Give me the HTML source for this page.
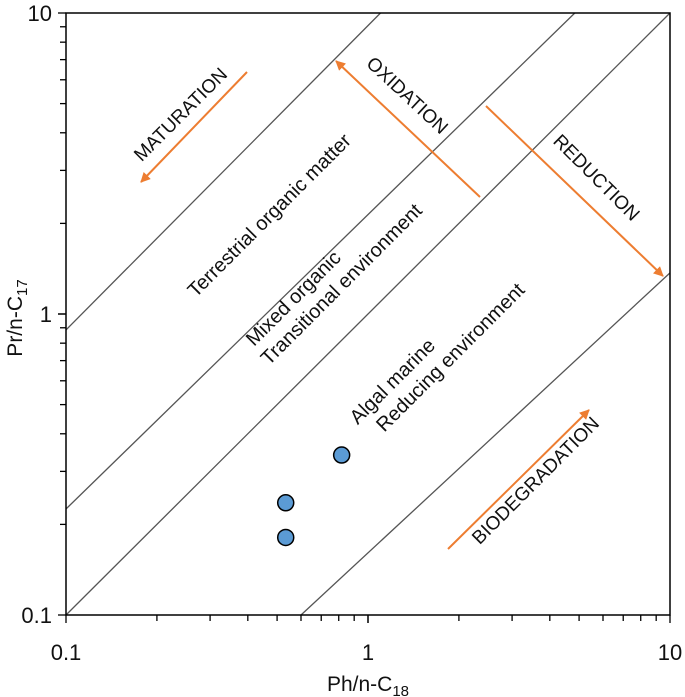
<!DOCTYPE html>
<html><head><meta charset="utf-8"><style>
body{margin:0;background:#fff}
svg text{font-family:"Liberation Sans",sans-serif;fill:#111}
</style></head><body>
<svg id="chart" style="position:absolute;left:0;top:0" width="685" height="697" viewBox="0 0 685 697" xmlns="http://www.w3.org/2000/svg">
<g id="lines"></g><g id="axes"></g><g id="pts"></g>
</svg>
<script>
const ptX=[0.818,0.534,0.534];
const ptY=[0.34,0.236,0.181];
const lineX1=[0.1,0.1,0.1,0.6];
const lineY1=[0.885,0.225,0.1,0.1];
const lineX2=[1.1,4.84,10,10];
const lineY2=[10,10,10,1.37];
const tickLabels=["0.1","1","10"];
const L=66,R=670,T=13,B=615;
const sx=v=>L+(Math.log10(v)+1)/2*(R-L);
const sy=v=>B-(Math.log10(v)+1)/2*(B-T);
const NS="http://www.w3.org/2000/svg";
function mk(t,a,p){const e=document.createElementNS(NS,t);for(const k in a)e.setAttribute(k,a[k]);p.appendChild(e);return e;}
const lg=document.getElementById('lines'),ax=document.getElementById('axes'),pg=document.getElementById('pts');
const lnames=['terrestrial-boundary','mixed-boundary','algal-boundary','biodegradation-boundary'];
for(let i=0;i<lineX1.length;i++){
 const l=mk('line',{x1:sx(lineX1[i]),y1:sy(lineY1[i]),x2:sx(lineX2[i]),y2:sy(lineY2[i]),stroke:'#555','stroke-width':1.3},lg);
 
 
}
const fr=mk('rect',{x:L,y:T,width:R-L,height:B-T,fill:'none',stroke:'#000','stroke-width':1.5},ax);


for(let d=0;d<2;d++)for(let m=1;m<=10;m++){
 const v=Math.pow(10,d-1)*m;
 const x=sx(v),y=sy(v);
 const t1=mk('line',{x1:x,y1:B,x2:x,y2:B+(m==1||m==10?8:6),stroke:'#000','stroke-width':1.3},ax);
 
 
 const t2=mk('line',{x1:L,y1:y,x2:L-(m==1||m==10?8:6),y2:y,stroke:'#000','stroke-width':1.3},ax);
 
 
}
tickLabels.forEach((s,i)=>{
 const v=Math.pow(10,i-1);
 const a=mk('text',{x:sx(v),y:B+45,'text-anchor':'middle','font-size':22},ax);a.textContent=s;
 
 
 const b=mk('text',{x:L-14,y:sy(v)+8,'text-anchor':'end','font-size':22},ax);b.textContent=s;
 
 
});
for(let i=0;i<ptX.length;i++){
 const c=mk('circle',{cx:sx(ptX[i]),cy:sy(ptY[i]),r:8,fill:'#5B9BD5',stroke:'#000','stroke-width':1.5},pg);
 
 
}
</script>
<svg style="position:absolute;left:0;top:0" width="685" height="697" xmlns="http://www.w3.org/2000/svg">
<defs><marker id="ah2" viewBox="0 0 10 10" refX="9" refY="5" markerWidth="5" markerHeight="5" orient="auto"><path d="M0,0L10,5L0,10z" fill="#ED7D31"/></marker></defs>
<g stroke="#ED7D31" stroke-width="2" marker-end="url(#ah2)">
<line x1="247" y1="72" x2="141" y2="182"/>
<line x1="480" y1="197" x2="336" y2="61"/>
<line x1="486" y1="106" x2="663" y2="276"/>
<line x1="448" y1="549" x2="589" y2="410"/>
</g>
<g font-family="Liberation Sans, sans-serif" font-size="20" fill="#111" text-anchor="middle">
<text transform="translate(185,119) rotate(-45)" font-size="19">MATURATION</text>
<text transform="translate(403,100) rotate(43)" font-size="19">OXIDATION</text>
<text transform="translate(592,182) rotate(45)" font-size="19">REDUCTION</text>
<text transform="translate(540,485) rotate(-45)" font-size="19">BIODEGRADATION</text>
<text transform="translate(274,220) rotate(-45)">Terrestrial organic matter</text>
<text transform="translate(298,303) rotate(-45)">Mixed organic</text>
<text transform="translate(346,289) rotate(-45)">Transitional environment</text>
<text transform="translate(397,386) rotate(-45)">Algal marine</text>
<text transform="translate(455,362) rotate(-45)">Reducing environment</text>
<text transform="translate(22,318) rotate(-90)" font-size="21">Pr/n-C<tspan font-size="15" dy="5">17</tspan></text>
<text x="368" y="691" font-size="21">Ph/n-C<tspan font-size="15" dy="5">18</tspan></text>
</g>
</svg>
</body></html>
